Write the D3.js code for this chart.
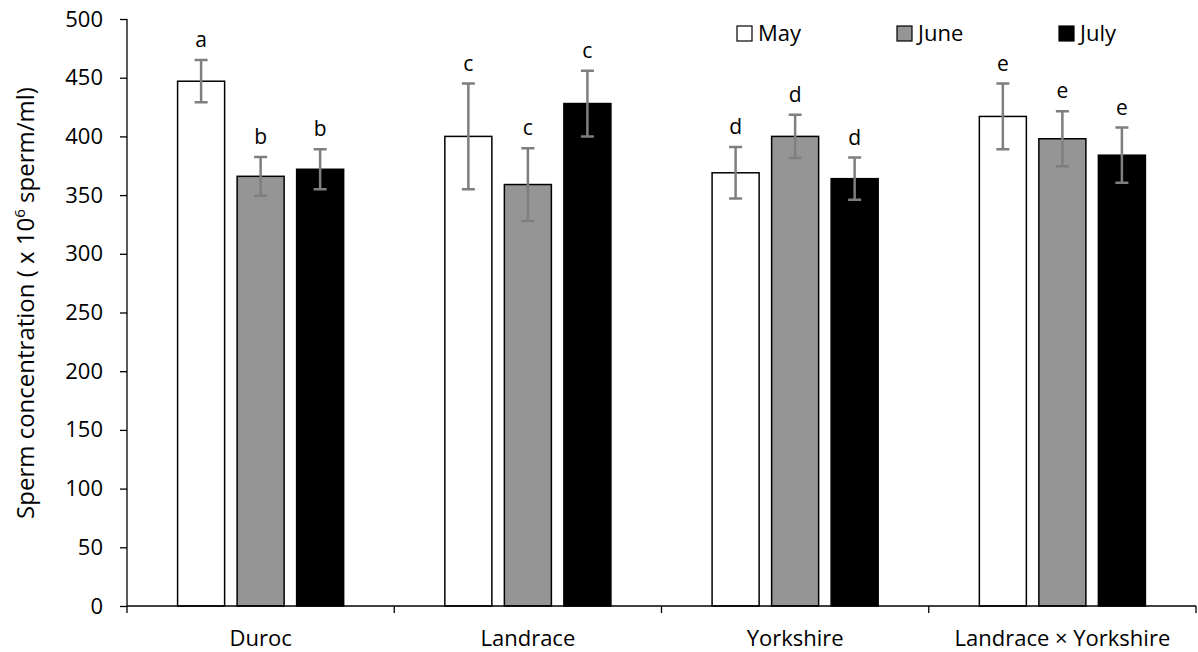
<!DOCTYPE html>
<html>
<head>
<meta charset="utf-8">
<script src="https://cdn.jsdelivr.net/npm/d3@7"></script>
<style>
	body { margin: 0; background: #fff; }
	svg text { font-family: 'Open Sans', Lato, sans-serif; fill: #000; }
</style>
</head>
<body>
<svg id="chart"></svg>
<script>
// data
const breeds = ['Duroc', 'Landrace', 'Yorkshire', 'Landrace \u00d7 Yorkshire'];
const months = ['May', 'June', 'July'];
const mayValues = [447, 400, 369, 417];
const juneValues = [366, 359, 400, 398];
const julyValues = [372, 428, 364, 384];
const mayErr = [18, 45, 22, 28];
const juneErr = [16.5, 31, 18.5, 23.5];
const julyErr = [17, 28, 18, 23.5];
const mayLetters = ['a', 'c', 'd', 'e'];
const juneLetters = ['b', 'c', 'd', 'e'];
const julyLetters = ['b', 'c', 'd', 'e'];
const yTicks = [0, 50, 100, 150, 200, 250, 300, 350, 400, 450, 500];

const fills = {May: '#ffffff', June: '#959595', July: '#000000'};

const rows = [];
breeds.forEach((b, i) => {
	rows.push({breed: b, month: 'May', value: mayValues[i], err: mayErr[i], letter: mayLetters[i]});
	rows.push({breed: b, month: 'June', value: juneValues[i], err: juneErr[i], letter: juneLetters[i]});
	rows.push({breed: b, month: 'July', value: julyValues[i], err: julyErr[i], letter: julyLetters[i]});
});

// dimensions
const W = 1198, H = 652;
const margin = {top: 19, bottom: 46, left: 127, right: 2};
const width = W - margin.left - margin.right;
const height = H - margin.top - margin.bottom;

const $svg = d3.select('#chart').attr('width', W).attr('height', H);
const $vis = $svg.append('g')
	.attr('transform', 'translate(' + margin.left + ',' + margin.top + ')');

// scales
const scaleX = d3.scaleBand().domain(breeds).range([0, width]).padding(0);
const scaleX1 = d3.scaleBand().domain(months)
	.range([0, scaleX.bandwidth()])
	.paddingInner(0.21)
	.paddingOuter(0.85);
const scaleY = d3.scaleLinear().domain([0, 500]).range([height, 0]);

// bars
$vis.selectAll('.bar')
	.data(rows)
	.enter()
	.append('rect')
	.attr('class', 'bar')
	.attr('x', d => scaleX(d.breed) + scaleX1(d.month))
	.attr('y', d => scaleY(d.value))
	.attr('width', scaleX1.bandwidth())
	.attr('height', d => height - scaleY(d.value))
	.attr('fill', d => fills[d.month])
	.attr('stroke', '#000')
	.attr('stroke-width', 1.5);

// error bars
const cx = d => scaleX(d.breed) + scaleX1(d.month) + scaleX1.bandwidth() / 2;
const errG = $vis.append('g').attr('stroke', '#7f7f7f').attr('stroke-width', 2.5);
errG.selectAll('.err')
	.data(rows)
	.enter()
	.append('path')
	.attr('fill', 'none')
	.attr('d', d => {
		const x = cx(d), t = scaleY(d.value + d.err), b = scaleY(d.value - d.err);
		return 'M' + (x - 6.5) + ',' + t + 'H' + (x + 6.5) +
			'M' + x + ',' + t + 'V' + b +
			'M' + (x - 6.5) + ',' + b + 'H' + (x + 6.5);
	});

// significance letters
$vis.selectAll('.letter')
	.data(rows)
	.enter()
	.append('text')
	.attr('x', cx)
	.attr('y', d => scaleY(d.value + d.err) - 13)
	.attr('text-anchor', 'middle')
	.style('font-size', '21px')
	.text(d => d.letter);

// axes
const axisX = $vis.append('g')
	.attr('transform', 'translate(0,' + height + ')');
axisX.append('line').attr('x1', 0).attr('x2', width).attr('stroke', '#000').attr('stroke-width', 1.3);
const bounds = breeds.map(b => scaleX(b)).concat([width]);
axisX.selectAll('.xtick')
	.data(bounds)
	.enter()
	.append('line')
	.attr('x1', d => d).attr('x2', d => d)
	.attr('y1', 0).attr('y2', 7)
	.attr('stroke', '#000').attr('stroke-width', 1.3);
axisX.selectAll('.xlab')
	.data(breeds)
	.enter()
	.append('text')
	.attr('x', d => scaleX(d) + scaleX.bandwidth() / 2)
	.attr('y', 40)
	.attr('text-anchor', 'middle')
	.style('font-size', '22px')
	.text(d => d);

const axisY = $vis.append('g')
	.call(d3.axisLeft(scaleY).tickValues(yTicks).tickSize(7).tickPadding(17));
axisY.select('.domain').attr('stroke', '#000').attr('stroke-width', 1.3).attr('d', 'M0,' + height + 'V0');
axisY.selectAll('.tick line').attr('stroke-width', 1.3);
axisY.selectAll('.tick text')
	.style('font-family', "'Open Sans', Lato, sans-serif")
	.style('font-size', '22px');

// y label
const yLab = $svg.append('text')
	.attr('transform', 'translate(34,303) rotate(-90)')
	.attr('text-anchor', 'middle')
	.style('font-size', '24px');
yLab.append('tspan').text('Sperm concentration ( x 10');
yLab.append('tspan').attr('dy', -9).style('font-size', '15px').text('6');
yLab.append('tspan').attr('dy', 9).text(' sperm/ml)');

// legend
const legend = $svg.append('g').attr('transform', 'translate(737,26)');
const legendX = [0, 160, 322];
months.forEach((m, i) => {
	const g = legend.append('g').attr('transform', 'translate(' + legendX[i] + ',0)');
	g.append('rect')
		.attr('width', 15).attr('height', 15)
		.attr('fill', fills[m])
		.attr('stroke', '#000').attr('stroke-width', 1.2);
	g.append('text')
		.attr('x', 21).attr('y', 15)
		.style('font-size', '22px')
		.text(m);
});
</script>
</body>
</html>
